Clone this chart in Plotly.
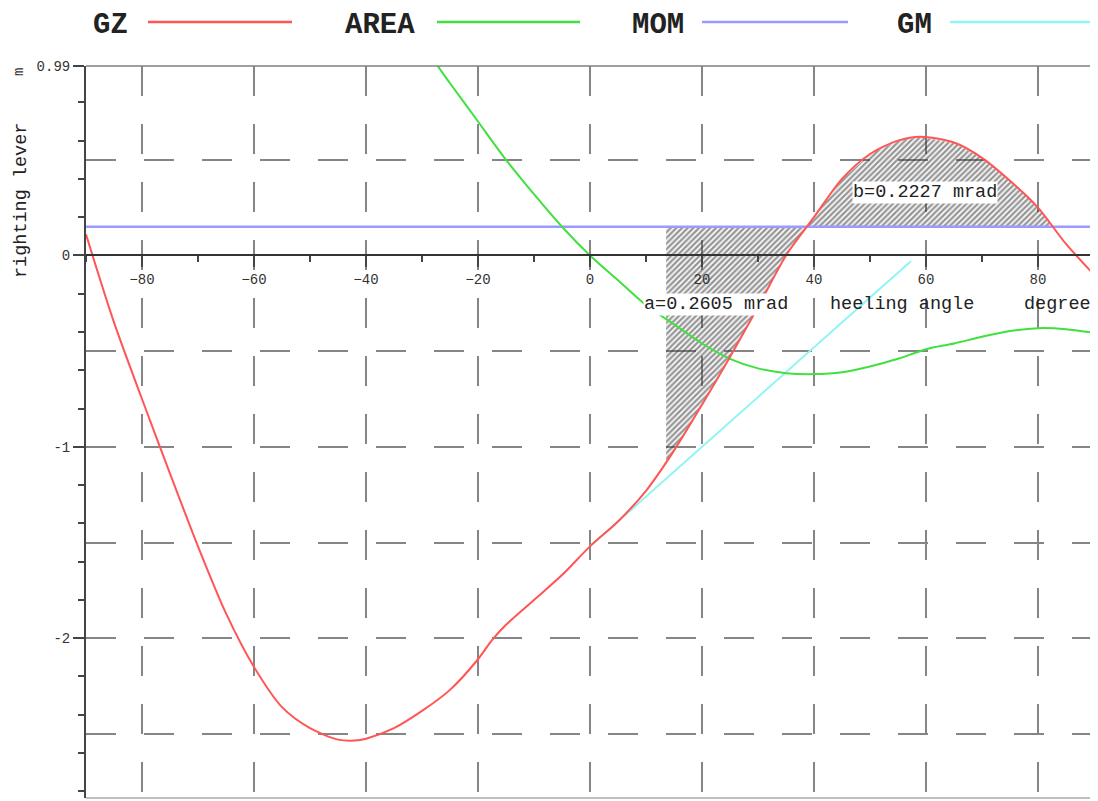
import numpy as np
import plotly.graph_objects as go

# ---------------- data ----------------
GZ_ANGLE = [-90, -85, -80, -75, -70, -65, -60, -55, -50, -45, -42, -40, -35, -30, -25, -20,
            -17.5, -15, -10, -5, 0, 5, 10, 15, 20, 25, 30, 35, 40, 45, 50, 55, 59, 65, 70,
            75, 80, 85, 90]
GZ_VALUE = [0.11, -0.35, -0.75, -1.14, -1.52, -1.87, -2.15, -2.36, -2.47, -2.53, -2.535, -2.525,
            -2.47, -2.38, -2.27, -2.11, -2.01, -1.93, -1.80, -1.67, -1.52, -1.39, -1.23, -1.02,
            -0.78, -0.53, -0.27, 0.0, 0.20, 0.40, 0.53, 0.60, 0.62, 0.59, 0.51, 0.39, 0.25,
            0.06, -0.10]

AREA_ANGLE = [-30, -27.7, -25, -20, -15, -10, -5, 0, 5, 10, 15, 20, 25, 30, 35, 40, 45, 50,
              55, 60, 65, 70, 75, 80, 85, 90]
AREA_VALUE = [1.10, 1.01, 0.90, 0.70, 0.50, 0.32, 0.15, 0.0, -0.13, -0.26, -0.36, -0.46, -0.54,
              -0.59, -0.615, -0.62, -0.61, -0.58, -0.54, -0.49, -0.46, -0.425, -0.395, -0.38,
              -0.385, -0.405]

MOM_ANGLE = [-90, 90]
MOM_VALUE = [0.15, 0.15]

GM_ANGLE = [0, 57.3]
GM_VALUE = [-1.52, -0.03]

A_START = 13.6
CROSS_1 = 38.6
CROSS_2 = 82.1
A_LABEL = "a=0.2605 mrad"
B_LABEL = "b=0.2227 mrad"

X_TICKS = [-80, -60, -40, -20, 0, 20, 40, 60, 80]
Y_TICKS = [-2, -1, 0, 0.99]
Y_TICKTEXT = ["-2", "-1", "0", "0.99"]
Y_MINOR = [round(v, 1) for v in np.arange(-2.8, 0.81, 0.2)]

LEGEND_NAMES = ["GZ", "AREA", "MOM", "GM"]
COLORS = {"GZ": "#ff5555", "AREA": "#40e040", "MOM": "#9a9aff", "GM": "#90f4f4"}

# ---------------- layout geometry ----------------
OFF = 8                      # page body margin
W, H = 1098 - OFF, 801 - OFF
L, T = 86 - OFF, 66 - OFF
PW, PH = 1008, 732
R, B = W - L - PW, H - T - PH
X_RANGE = [-90, 90]
Y_RANGE = [-2.835, 0.99]
FONT = "Liberation Mono, Courier New, monospace"


def px_x(p):  # screen pixel -> paper fraction
    return (p - OFF - L) / PW


def px_y(p):
    return (H - B - (p - OFF)) / PH


def region(x0, x1, n=120):
    xs = np.linspace(x0, x1, n)
    gz = np.interp(xs, GZ_ANGLE, GZ_VALUE)
    mom = np.interp(xs, MOM_ANGLE, MOM_VALUE)
    return np.concatenate([xs, xs[::-1]]), np.concatenate([gz, mom[::-1]])


fig = go.Figure()

# hatched areas
for x0, x1 in [(A_START, CROSS_1), (CROSS_1, CROSS_2)]:
    rx, ry = region(x0, x1)
    fig.add_trace(go.Scatter(
        x=rx, y=ry, mode="lines", fill="toself", line=dict(width=0),
        fillcolor="rgba(0,0,0,0)",
        fillpattern=dict(shape="/", fgcolor="#303030", bgcolor="rgba(255,255,255,0)",
                         size=4, solidity=0.6),
        hoverinfo="skip", showlegend=False))

fig.add_trace(go.Scatter(x=MOM_ANGLE, y=MOM_VALUE, mode="lines", name="MOM",
                         line=dict(color=COLORS["MOM"], width=2.5), showlegend=False))
fig.add_trace(go.Scatter(x=GM_ANGLE, y=GM_VALUE, mode="lines", name="GM",
                         line=dict(color=COLORS["GM"], width=2), showlegend=False))
fig.add_trace(go.Scatter(x=AREA_ANGLE, y=AREA_VALUE, mode="lines", name="AREA",
                         line=dict(color=COLORS["AREA"], width=2, shape="spline", smoothing=0.8),
                         showlegend=False))
fig.add_trace(go.Scatter(x=GZ_ANGLE, y=GZ_VALUE, mode="lines", name="GZ",
                         line=dict(color=COLORS["GZ"], width=2, shape="spline", smoothing=0.8),
                         showlegend=False))
# dummy trace so the grid axis exists
fig.add_trace(go.Scatter(x=[None], y=[None], yaxis="y2", showlegend=False, hoverinfo="skip"))

tickfont = dict(family=FONT, size=14, color="#333333")
x_pos = (0 - Y_RANGE[0]) / (Y_RANGE[1] - Y_RANGE[0])

fig.update_layout(
    width=W, height=H, margin=dict(l=L, r=R, t=T, b=B, autoexpand=False),
    paper_bgcolor="white", plot_bgcolor="white", showlegend=False,
    xaxis=dict(range=X_RANGE, anchor="free", position=x_pos, showline=True, automargin=False,
               linecolor="#333333", linewidth=2, ticks="outside", ticklen=11, tickwidth=1.5,
               tickcolor="#444444", tickmode="array", tickvals=X_TICKS, tickfont=tickfont,
               ticklabelstandoff=0,
               showgrid=True, gridcolor="#858585", gridwidth=1.6, griddash="30px,28px",
               zeroline=False,
               minor=dict(tick0=0, dtick=10, ticks="outside", ticklen=6, tickwidth=1.5,
                          tickcolor="#444444", showgrid=False)),
    yaxis=dict(range=Y_RANGE, showline=True, linecolor="#444444", linewidth=2, automargin=False,
               ticks="outside", ticklen=11, tickwidth=1.5, tickcolor="#444444",
               tickmode="array", tickvals=Y_TICKS, ticktext=Y_TICKTEXT, tickfont=tickfont,
               showgrid=False, zeroline=False,
               minor=dict(tickmode="array", tickvals=Y_MINOR, ticks="outside", ticklen=6,
                          tickwidth=1.5, tickcolor="#444444", showgrid=False)),
    yaxis2=dict(range=Y_RANGE, overlaying="y", showgrid=True, tick0=0, dtick=0.5,
                automargin=False,
                gridcolor="#858585", gridwidth=1.6, griddash="30px,28px",
                showticklabels=False, ticks="", showline=False, zeroline=False),
)

shapes = [
    dict(type="line", xref="paper", yref="paper", x0=0, x1=1, y0=1, y1=1,
         line=dict(color="#808080", width=1.5)),
    dict(type="line", xref="paper", yref="paper", x0=1, x1=1, y0=0, y1=1,
         line=dict(color="#666666", width=2)),
    dict(type="line", xref="paper", yref="paper", x0=0, x1=1, y0=0, y1=0,
         line=dict(color="#aaaaaa", width=1.5)),
]

# custom legend (text followed by line sample), positions in screen pixels
legend_text_x = [110, 380, 658, 914]
legend_line_x = [(148, 292), (437, 580), (702, 848), (950, 1095)]
annotations = []
for name, tx, (lx0, lx1) in zip(LEGEND_NAMES, legend_text_x, legend_line_x):
    annotations.append(dict(x=px_x(tx), y=px_y(25), xref="paper", yref="paper", text=name,
                            showarrow=False, xanchor="center", yanchor="middle",
                            font=dict(family=FONT, size=29, color="#222222", weight="bold")))
    shapes.append(dict(type="line", xref="paper", yref="paper", x0=px_x(lx0), x1=px_x(lx1),
                       y0=px_y(22), y1=px_y(22), line=dict(color=COLORS[name], width=2.5)))

labfont = dict(family=FONT, size=18.5, color="#222222")
annotations += [
    dict(x=22.5, y=-0.258, xref="x", yref="y", text=A_LABEL, showarrow=False,
         xanchor="center", yanchor="middle", bgcolor="white", font=labfont, borderpad=0),
    dict(x=59.8, y=0.33, xref="x", yref="y", text=B_LABEL, showarrow=False,
         xanchor="center", yanchor="middle", bgcolor="white", font=labfont, borderpad=0),
    dict(x=55.7, y=-0.258, xref="x", yref="y", text="heeling angle", showarrow=False,
         xanchor="center", yanchor="middle", font=labfont),
    dict(x=90, y=-0.258, xref="x", yref="y", text="degree", showarrow=False,
         xanchor="right", yanchor="middle", xshift=-1, font=labfont),
    dict(x=px_x(21), y=px_y(201), xref="paper", yref="paper", text="righting lever",
         showarrow=False, textangle=-90, xanchor="center", yanchor="middle", font=labfont),
    dict(x=px_x(19), y=px_y(72), xref="paper", yref="paper", text="m",
         showarrow=False, textangle=-90, xanchor="center", yanchor="middle",
         font=dict(family=FONT, size=14, color="#333333")),
]

fig.update_layout(shapes=shapes, annotations=annotations)
fig.write_html("out.html")
